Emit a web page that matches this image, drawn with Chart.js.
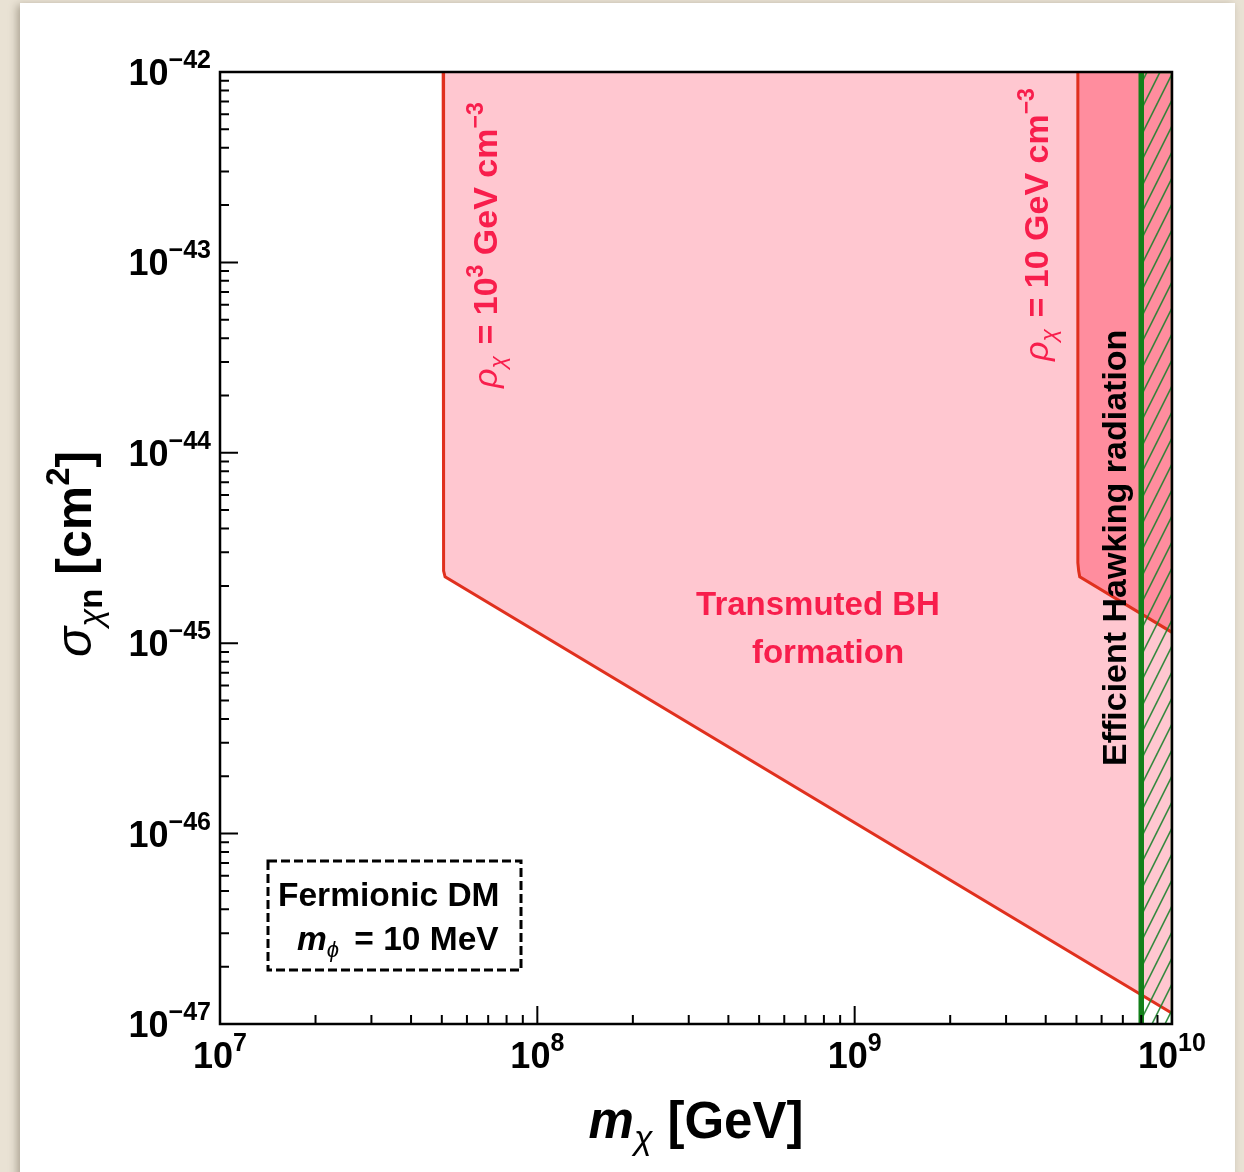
<!DOCTYPE html>
<html>
<head>
<meta charset="utf-8">
<script src="https://cdn.jsdelivr.net/npm/chart.js@4.4.1/dist/chart.umd.min.js"></script>
<style>
  html, body { margin: 0; padding: 0; }
  body { width: 1244px; height: 1172px; background: #e9e2d4; position: relative; overflow: hidden; }
  #panel { position: absolute; left: 20px; top: 3px; width: 1215px; height: 1180px; background: #fff;
           box-shadow: -3px 2px 8px rgba(60, 50, 30, 0.35); }
  #chart { position: absolute; left: 0; top: 0; }
</style>
</head>
<body>
<div id="panel"></div>
<canvas id="chart" width="1244" height="1172"></canvas>
<script>
// axes
const xMin = 1e7, xMax = 1e10;
const yMin = 1e-47, yMax = 1e-42;
const xExponents = [7, 8, 9, 10];
const yExponents = [-47, -46, -45, -44, -43, -42];

// transmuted BH formation, rho = 10^3 GeV cm^-3
const rho1000Mass  = [5.05e7, 5.05e7, 5.08e7, 5.12e7, 1e10];
const rho1000Sigma = [1e-42, 2.65e-45, 2.4e-45, 2.23e-45, 1.14e-47];

// transmuted BH formation, rho = 10 GeV cm^-3
const rho10Mass  = [5.05e9, 5.05e9, 5.08e9, 5.12e9, 1e10];
const rho10Sigma = [1e-42, 2.65e-45, 2.4e-45, 2.23e-45, 1.14e-45];

// efficient Hawking radiation above this mass
const hawkingMass = 8e9;

const FONT = '"Liberation Sans", Arial, Helvetica, sans-serif';
const textRed = '#f81e4c';
const lineRed = '#e0301e';
const green = '#13801a';

function pts(xs, ys) {
  return xs.map((x, i) => ({ x: x, y: ys[i] }));
}

// hatch pattern for the Hawking region
function makeHatch() {
  const c = document.createElement('canvas');
  c.width = 13; c.height = 26;
  const g = c.getContext('2d');
  g.strokeStyle = 'rgba(30, 130, 45, 0.9)';
  g.lineWidth = 1.6;
  for (const off of [-13, 0, 13]) {
    g.beginPath();
    g.moveTo(off - 6.5, 39);
    g.lineTo(off + 19.5, -13);
    g.stroke();
  }
  return c.getContext('2d').createPattern(c, 'repeat');
}

// draws a run of text pieces with their own fonts and vertical offsets
function drawRich(ctx, segs, x, y, align) {
  let w = 0;
  for (const s of segs) { ctx.font = s.font; w += ctx.measureText(s.t).width + (s.gap || 0); }
  let cx = x;
  if (align === 'right') cx = x - w;
  if (align === 'center') cx = x - w / 2;
  ctx.textAlign = 'left';
  ctx.textBaseline = 'alphabetic';
  for (const s of segs) {
    ctx.font = s.font;
    ctx.fillStyle = s.color || '#000';
    ctx.fillText(s.t, cx, y + (s.dy || 0));
    cx += ctx.measureText(s.t).width + (s.gap || 0);
  }
}

function drawRotated(ctx, segs, x, y) {
  ctx.save();
  ctx.translate(x, y);
  ctx.rotate(-Math.PI / 2);
  drawRich(ctx, segs, 0, 0, 'left');
  ctx.restore();
}

function powLabel(exp) {
  const e = exp < 0 ? '\u2212' + (-exp) : String(exp);
  return [
    { t: '10', font: 'bold 36px ' + FONT },
    { t: e, font: 'bold 25px ' + FONT, dy: -17 }
  ];
}

const decorations = {
  id: 'decorations',
  afterDraw(chart) {
    const ctx = chart.ctx;
    const a = chart.chartArea;
    const xs = chart.scales.x, ys = chart.scales.y;
    ctx.save();

    // frame
    ctx.strokeStyle = '#000';
    ctx.lineWidth = 2.5;
    ctx.strokeRect(a.left, a.top, a.right - a.left, a.bottom - a.top);

    // ticks (inside)
    ctx.lineWidth = 2;
    ctx.beginPath();
    for (let e = 7; e <= 10; e++) {
      for (let k = 1; k <= 9; k++) {
        const v = k * Math.pow(10, e);
        if (v > xMax * 1.0001) break;
        const px = xs.getPixelForValue(v);
        const len = k === 1 ? 18 : 9;
        ctx.moveTo(px, a.bottom);
        ctx.lineTo(px, a.bottom - len);
      }
    }
    for (let e = -47; e <= -42; e++) {
      for (let k = 1; k <= 9; k++) {
        const v = k * Math.pow(10, e);
        if (v > yMax * 1.0001) break;
        const py = ys.getPixelForValue(v);
        const len = k === 1 ? 18 : 9;
        ctx.moveTo(a.left, py);
        ctx.lineTo(a.left + len, py);
      }
    }
    ctx.stroke();

    // tick labels
    for (const e of xExponents) {
      const px = xs.getPixelForValue(Math.pow(10, e));
      drawRich(ctx, powLabel(e), px, 1068, 'center');
    }
    for (const e of yExponents) {
      const py = ys.getPixelForValue(Math.pow(10, e));
      drawRich(ctx, powLabel(e), 211, py + 13, 'right');
    }

    // axis titles
    drawRich(ctx, [
      { t: 'm', font: 'italic bold 51px ' + FONT },
      { t: '\u03c7', font: 'italic 34px ' + FONT, dy: 11, gap: 15 },
      { t: '[GeV]', font: 'bold 51px ' + FONT }
    ], 696, 1138, 'center');

    drawRotated(ctx, [
      { t: '\u03c3', font: 'italic 50px ' + FONT },
      { t: '\u03c7', font: 'italic 33px ' + FONT, dy: 11 },
      { t: 'n', font: 'bold 33px ' + FONT, dy: 11, gap: 14 },
      { t: '[cm', font: 'bold 50px ' + FONT },
      { t: '2', font: 'bold 33px ' + FONT, dy: -22 },
      { t: ']', font: 'bold 50px ' + FONT }
    ], 91, 657);

    // region labels
    ctx.save();
    ctx.beginPath();
    ctx.rect(a.left, a.top, a.right - a.left, a.bottom - a.top);
    ctx.clip();
    drawRich(ctx, [{ t: 'Transmuted BH', font: 'bold 33px ' + FONT, color: textRed }], 818, 615, 'center');
    drawRich(ctx, [{ t: 'formation', font: 'bold 33px ' + FONT, color: textRed }], 828, 663, 'center');

    const rhoSegs = (main, sup) => {
      const s = [
        { t: '\u03c1', font: 'italic 34px ' + FONT, color: textRed },
        { t: '\u03c7', font: 'italic 23px ' + FONT, color: textRed, dy: 8, gap: 2 },
        { t: ' = ' + main, font: 'bold 34px ' + FONT, color: textRed }
      ];
      if (sup) s.push({ t: sup, font: 'bold 23px ' + FONT, color: textRed, dy: -14 });
      s.push({ t: ' GeV cm', font: 'bold 34px ' + FONT, color: textRed });
      s.push({ t: '\u22123', font: 'bold 23px ' + FONT, color: textRed, dy: -14 });
      return s;
    };
    drawRotated(ctx, rhoSegs('10', '3'), 497, 388);
    drawRotated(ctx, rhoSegs('10', null), 1048, 361);

    drawRotated(ctx, [{ t: 'Efficient Hawking radiation', font: 'bold 34px ' + FONT, color: '#000' }], 1126, 766);
    ctx.restore();

    // dashed box
    ctx.setLineDash([9, 4]);
    ctx.lineWidth = 3;
    ctx.strokeStyle = '#000';
    ctx.strokeRect(268, 861, 253, 109);
    ctx.setLineDash([]);
    drawRich(ctx, [{ t: 'Fermionic DM', font: 'bold 33.5px ' + FONT }], 278, 906, 'left');
    drawRich(ctx, [
      { t: 'm', font: 'italic bold 33.5px ' + FONT },
      { t: '\u03d5', font: 'italic 22px ' + FONT, dy: 7, gap: 6 },
      { t: ' = 10 MeV', font: 'bold 33.5px ' + FONT }
    ], 297, 950, 'left');

    ctx.restore();
  }
};

const hatch = makeHatch();

new Chart(document.getElementById('chart'), {
  type: 'line',
  data: {
    datasets: [
      {
        label: 'hawking border',
        data: pts([hawkingMass, xMax, xMax], [yMax, yMax, yMin]),
        borderColor: green,
        borderWidth: 2.5,
        fill: false,
        order: 1
      },
      {
        label: 'hawking line',
        data: pts([hawkingMass, hawkingMass], [yMin, yMax]),
        borderColor: green,
        borderWidth: 5.5,
        fill: false,
        order: 2
      },
      {
        label: 'hawking hatch',
        data: pts([hawkingMass, xMax], [yMin, yMin]),
        borderWidth: 0,
        borderColor: 'rgba(0,0,0,0)',
        backgroundColor: hatch,
        fill: 'end',
        order: 3
      },
      {
        label: 'rho 10',
        data: pts(rho10Mass, rho10Sigma),
        borderColor: lineRed,
        borderWidth: 3,
        backgroundColor: '#ff8d9e',
        fill: 'end',
        order: 4
      },
      {
        label: 'rho 1000',
        data: pts(rho1000Mass, rho1000Sigma),
        borderColor: lineRed,
        borderWidth: 3,
        backgroundColor: '#ffc7d0',
        fill: 'end',
        order: 5
      }
    ]
  },
  options: {
    responsive: false,
    animation: false,
    devicePixelRatio: 1,
    layout: { padding: { left: 212, top: 72, right: 72, bottom: 140 } },
    elements: { point: { radius: 0 }, line: { tension: 0 } },
    plugins: { legend: { display: false }, tooltip: { enabled: false } },
    scales: {
      x: {
        type: 'logarithmic', min: xMin, max: xMax,
        grid: { display: false }, border: { display: false },
        ticks: { display: false }
      },
      y: {
        type: 'logarithmic', min: yMin, max: yMax,
        grid: { display: false }, border: { display: false },
        ticks: { display: false }
      }
    }
  },
  plugins: [decorations]
});
</script>
</body>
</html>
